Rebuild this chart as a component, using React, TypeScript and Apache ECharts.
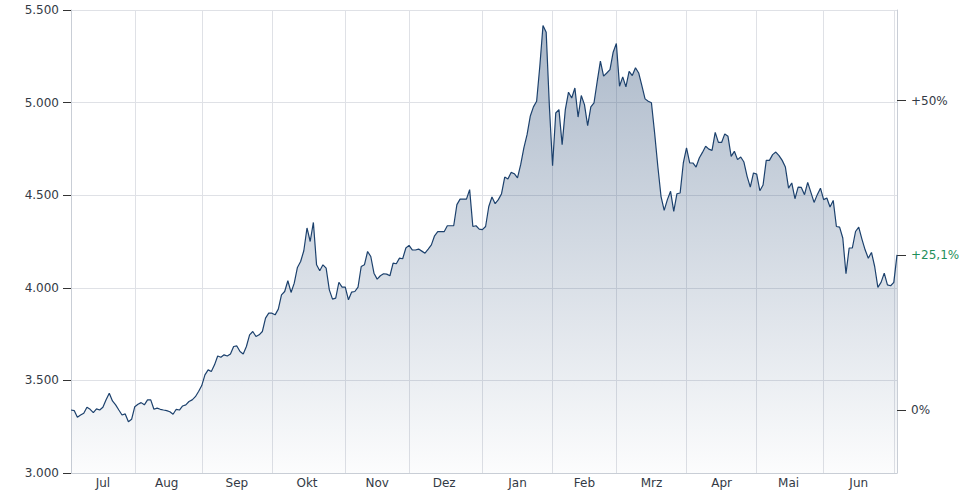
import React, { useEffect, useRef } from "react";
import * as echarts from "echarts";

const monthLabels = ["Jul", "Aug", "Sep", "Okt", "Nov", "Dez", "Jan", "Feb", "Mrz", "Apr", "Mai", "Jun"];
// index of the first trading day of each month (gridlines)
const monthStartIdx = [20, 41, 63, 86, 106, 129, 151, 171, 193, 215, 236, 258];
// index where each month label is centered
const monthLabelIdx = [10, 30, 52, 74, 96, 117, 140, 161, 182, 204, 225, 247];

const prices = [
  3340, 3337, 3301, 3313, 3323, 3355, 3344, 3326, 3346, 3340, 3355, 3395, 3431, 3389, 3368, 3340, 3313, 3319, 3277, 3290,
  3358, 3371, 3380, 3368, 3395, 3395, 3344, 3350, 3344, 3340, 3337, 3331, 3317, 3344, 3340, 3362, 3368, 3386, 3395, 3412,
  3440, 3472, 3530, 3557, 3548, 3584, 3632, 3625, 3638, 3632, 3643, 3683, 3686, 3656, 3643, 3683, 3746, 3764, 3737, 3746,
  3764, 3836, 3863, 3863, 3854, 3885, 3962, 3980, 4038, 3975, 4025, 4110, 4142, 4200, 4323, 4250, 4353, 4124, 4092, 4124,
  4106, 3989, 3939, 3944, 4030, 4004, 4004, 3935, 3977, 3980, 4004, 4115, 4124, 4196, 4169, 4079, 4047, 4065, 4076, 4074,
  4065, 4133, 4130, 4160, 4157, 4215, 4229, 4205, 4204, 4209, 4198, 4187, 4209, 4232, 4281, 4303, 4304, 4303, 4335, 4335,
  4335, 4449, 4479, 4479, 4479, 4530, 4331, 4335, 4317, 4314, 4331, 4439, 4490, 4454, 4476, 4508, 4598, 4588, 4623, 4616,
  4593, 4665, 4755, 4827, 4926, 4977, 5007, 5196, 5416, 5380, 4980, 4659, 4944, 4962, 4773, 4962, 5056, 5025, 5079, 4922,
  5038, 4989, 4876, 4977, 4999, 5115, 5224, 5143, 5160, 5178, 5272, 5319, 5088, 5139, 5085, 5169, 5146, 5188, 5160, 5092,
  5020, 5007, 4999, 4836, 4656, 4494, 4418, 4476, 4521, 4413, 4508, 4512, 4674, 4755, 4674, 4674, 4652, 4701, 4731, 4764,
  4749, 4742, 4839, 4785, 4785, 4831, 4818, 4710, 4737, 4692, 4706, 4679, 4602, 4544, 4620, 4614, 4524, 4555, 4688, 4688,
  4719, 4733, 4714, 4688, 4652, 4538, 4566, 4481, 4544, 4542, 4503, 4569, 4515, 4461, 4503, 4538, 4476, 4485, 4436, 4472,
  4331, 4328, 4269, 4076, 4215, 4215, 4304, 4328, 4263, 4205, 4160, 4191, 4115, 4002, 4029, 4079, 4016, 4011, 4029, 4178,
];

const yMin = 3000;
const yMax = 5500;
const yStep = 500;
const pctTicks = [0, 50];

const FONT = "'DejaVu Sans', Verdana, sans-serif";
const TEXT = "#333a45";

export default function App() {
  const ref = useRef<HTMLDivElement>(null);

  useEffect(() => {
    if (!ref.current) return;
    const chart = echarts.init(ref.current, null, { renderer: "svg" });
    const base = prices[0];
    const last = prices[prices.length - 1];
    const lastPct = Math.round(((last / base - 1) * 100) * 10) / 10;
    const pMin = (yMin / base - 1) * 100;
    const pMax = (yMax / base - 1) * 100;
    const cats = prices.map((_, i) => String(i));
    const labelSet = new Set(monthLabelIdx);
    const startSet = new Set(monthStartIdx);

    const fmtThousands = (v: number) => String(v).replace(/\B(?=(\d{3})+(?!\d))/g, ".");

    chart.setOption({
      animation: false,
      textStyle: { fontFamily: FONT },
      grid: { left: 71, right: 83, top: 10, bottom: 27, containLabel: false },
      xAxis: {
        type: "category",
        data: cats,
        boundaryGap: false,
        axisLine: { show: true, onZero: false, lineStyle: { color: "#c9ced6", width: 1 } },
        axisTick: { show: false },
        axisLabel: {
          interval: (i: number) => labelSet.has(i),
          formatter: (_v: string, i: number) => {
            const k = monthLabelIdx.indexOf(i);
            return k >= 0 ? monthLabels[k] : "";
          },
          color: TEXT,
          fontSize: 12,
          fontFamily: FONT,
          margin: 4,
        },
        splitLine: {
          show: true,
          interval: (i: number) => startSet.has(i),
          lineStyle: { color: "#dfe1e6", width: 1 },
        },
      },
      yAxis: [
        {
          type: "value",
          min: yMin,
          max: yMax,
          interval: yStep,
          position: "left",
          axisLine: { show: true, onZero: false, lineStyle: { color: "#c9ced6" } },
          axisTick: { show: true, length: 8, lineStyle: { color: "#333" } },
          axisLabel: {
            formatter: (v: number) => fmtThousands(v),
            color: TEXT,
            fontSize: 12,
            fontFamily: FONT,
            margin: 12,
          },
          splitLine: { show: true, lineStyle: { color: "#dfe1e6", width: 1 } },
        },
        {
          type: "value",
          min: pMin,
          max: pMax,
          position: "right",
          axisLine: { show: true, onZero: false, lineStyle: { color: "#c9ced6" } },
          axisTick: {
            show: true,
            length: 9,
            customValues: [...pctTicks, lastPct],
            lineStyle: { color: "#333" },
          },
          axisLabel: {
            customValues: [...pctTicks, lastPct],
            formatter: (v: number) => {
              const r = Math.round(v * 10) / 10;
              const s = (r > 0 ? "+" : "") + String(r).replace(".", ",") + "%";
              return Math.abs(r - lastPct) < 0.05 ? "{g|" + s + "}" : s;
            },
            rich: { g: { color: "#1f8f5a", fontSize: 12, fontFamily: FONT } },
            color: TEXT,
            fontSize: 12,
            fontFamily: FONT,
            margin: 14,
          },
          splitLine: { show: false },
        },
      ],
      series: [
        {
          type: "line",
          data: prices,
          yAxisIndex: 0,
          symbol: "none",
          smooth: false,
          lineStyle: { color: "#1c416d", width: 1.2 },
          areaStyle: {
            color: new echarts.graphic.LinearGradient(0, 0, 0, 1, [
              { offset: 0, color: "rgba(26,62,108,0.52)" },
              { offset: 1, color: "rgba(26,62,108,0.02)" },
            ]),
          },
        },
      ],
    });
    return () => chart.dispose();
  }, []);

  return (
    <div
      ref={ref}
      style={{ position: "fixed", left: 0, top: 0, width: 980, height: 500, background: "#fff" }}
    />
  );
}
